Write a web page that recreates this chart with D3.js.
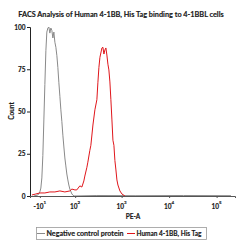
<!DOCTYPE html>
<html><head><meta charset="utf-8">
<script src="https://cdn.jsdelivr.net/npm/d3@7"></script>
<style>body{margin:0;background:#fff}svg{display:block}text{font-family:Lato,"Open Sans",sans-serif;font-weight:bold;fill:#1a1a1a;stroke:#1a1a1a;stroke-width:0.15px}</style>
</head><body>
<script>
const title = "FACS Analysis of Human 4-1BB, His Tag binding to 4-1BBL cells";
const xLabel = "PE-A";
const yLabel = "Count";
const seriesNames = ["Negative control protein", "Human 4-1BB, His Tag"];
const seriesColors = ["#8a8a8a", "#e0161b"];
const yTicks = [0, 25, 50, 75, 100];
const xTickValues = [-10, 100, 1000, 10000, 100000];
const xTickBase = ["-10", "10", "10", "10", "10"];
const xTickExp = ["1", "2", "3", "4", "5"];
const xDomain = [-35, 243700];

// Negative control: PE-A value, count
const negX = [-24.6,-14.7,-10,-7.7,-5.4,-3.1,-0.8,1.5,3.8,6.0,8.4,10.7,13.0,15.4,17.8,20.3,22.8,25.4,28.0,30.7,33.4,36.3,39.2,42.2,45.3,48.5,51.9,55.3,58.8,62.5,66.4,70.4,74.6,83.7,93.5,300,2000,20000,200000];
const negY = [0,0.6,2.4,4.7,10.7,24,45,66,86,97,99.4,100,96.4,99.4,98,93.5,97,91,88,83,76,67,59,51,44,36,29,22.5,17.8,13,9.5,6.5,4.1,1.2,0,0.3,0.2,0.3,0.2];
// Human 4-1BB, His Tag
const posX = [-29.8,-19.6,-10,1.5,13,25.4,39.2,55.3,74.6,83.7,98.7,109,128,142,157,165,183,192,212,223,247,272,300,315,331,348,384,403,423,444,466,489,514,539,566,594,625,656,688,722,759,796,836,921,1015,1174];
const posY = [0.6,1.2,1.8,1.8,2.4,2.4,3,2.4,3,4.1,3.6,3.6,6,5.3,8.9,11.8,17,20,27,30,42,51,57,67,76,82,87.6,88,84,86.4,87.6,83.4,78,74.6,67.5,57,45,33,30,21,15.4,9.5,6.5,3,1.2,0];

const W = 250, H = 250;
const m = {left: 30, right: 15, top: 27, bottom: 54};
const svg = d3.select("body").append("svg").attr("width", W).attr("height", H);

// biexponential-like transform (asinh)
const wdt = 47;
const tf = v => Math.asinh(v / wdt);
const xs = d3.scaleLinear().domain(xDomain.map(tf)).range([m.left, W - m.right]);
const x = v => xs(tf(v));
const y = d3.scaleLinear().domain([0, 100]).range([H - m.bottom, m.top]);

// title
svg.append("text").attr("x", 121).attr("y", 17).attr("text-anchor", "middle")
  .style("font-size", "7.3px").text(title);

// curves
const line = d3.line().x(d => x(d[0])).y(d => y(d[1]));
const series = [d3.zip(negX, negY), d3.zip(posX, posY)];
series.forEach((s, i) => {
  svg.append("path").datum(s).attr("d", line).attr("fill", "none")
    .attr("stroke", seriesColors[i]).attr("stroke-width", 1);
});

// y axis
const yAxis = d3.axisLeft(y).tickValues(yTicks).tickSize(3).tickPadding(1.5);
const gy = svg.append("g").attr("transform", `translate(${m.left},0)`).call(yAxis);
gy.select(".domain").attr("stroke", "#222");
gy.selectAll(".tick line").attr("stroke", "#222");
gy.selectAll("text").style("font-size", "6.5px").style("font-family", "Lato,sans-serif")
  .attr("fill", "#1a1a1a").attr("stroke", "#1a1a1a").attr("stroke-width", 0.15);

// x axis
const xAxis = d3.axisBottom(xs).tickValues(xTickValues.map(tf)).tickSize(2).tickFormat("");
const gx = svg.append("g").attr("transform", `translate(0,${y(0)})`).call(xAxis);
gx.select(".domain").attr("stroke", "#555");
gx.selectAll(".tick line").attr("stroke", "#555");
xTickValues.forEach((v, i) => {
  const t = svg.append("text").attr("x", x(v)).attr("y", 209).attr("text-anchor", "middle")
    .style("font-size", "6.5px");
  t.append("tspan").text(xTickBase[i]);
  t.append("tspan").attr("dy", -5).style("font-size", "4.5px").text(xTickExp[i]);
});
svg.append("text").attr("x", 133).attr("y", 218.5).attr("text-anchor", "middle")
  .style("font-size", "6.5px").text(xLabel);
svg.append("text").attr("transform", "translate(14,111) rotate(-90)").attr("text-anchor", "middle")
  .style("font-size", "6.5px").text(yLabel);

// legend
const lg = svg.append("g");
lg.append("rect").attr("x", 36.5).attr("y", 227.5).attr("width", 170).attr("height", 12)
  .attr("fill", "#fff").attr("stroke", "#999").attr("stroke-width", 0.8);
const legX = [37, 127];
const legSize = [7.1, 6.5];
seriesNames.forEach((n, i) => {
  lg.append("line").attr("x1", legX[i]).attr("x2", legX[i] + 8).attr("y1", 233.5).attr("y2", 233.5)
    .attr("stroke", seriesColors[i]).attr("stroke-width", 1);
  lg.append("text").attr("x", legX[i] + 9.5).attr("y", 236)
    .style("font-size", legSize[i] + "px").text(n);
});
</script>
</body></html>
